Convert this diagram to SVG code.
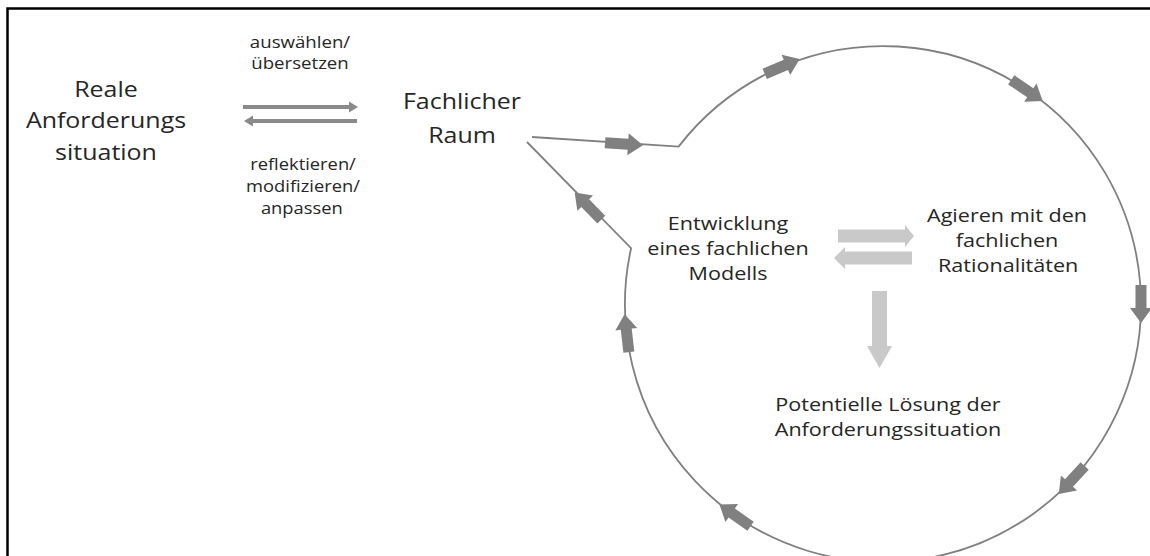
<svg xmlns="http://www.w3.org/2000/svg" width="1150" height="556" viewBox="0 0 1150 556">
  <style>
    text { font-family: "Open Sans", "Liberation Sans", sans-serif; fill: #262626; text-anchor: middle; font-variant-ligatures: none; }
    .big { font-size: 22.5px; }
    .mid { font-size: 18.3px; }
    .small { font-size: 15.8px; }
    .line { fill: none; stroke: #808080; stroke-width: 1.8; }
    .dark { fill: #808080; }
    .light { fill: #c9c9c9; }
  </style>
  <defs>
    <path id="blk" d="M-19,-5.5 H4 V-11 L19,0 L4,11 V5.5 H-19 Z"/>
  </defs>
  <rect x="0" y="0" width="1150" height="556" fill="#ffffff"/>
  <path d="M7.5,556 V8.5 H1150" fill="none" stroke="#000000" stroke-width="2.5"/>

  <g id="node-reale" transform="translate(106,0) scale(1.11,1)">
    <text class="big" x="0" y="97">Reale</text>
    <text class="big" x="0" y="128">Anforderungs</text>
    <text class="big" x="0" y="160">situation</text>
  </g>
  <g id="node-fachlicher-raum" transform="translate(462,0) scale(1.11,1)">
    <text class="big" x="0" y="109">Fachlicher</text>
    <text class="big" x="0" y="143">Raum</text>
  </g>
  <g id="label-top" transform="translate(300,0) scale(1.18,1)">
    <text class="small" x="0" y="48">auswählen/</text>
    <text class="small" x="0" y="69">übersetzen</text>
  </g>
  <g id="label-bottom" transform="translate(303,0) scale(1.16,1)">
    <text class="small" x="0" y="170">reflektieren/</text>
    <text class="small" x="0" y="192">modifizieren/</text>
    <text class="small" x="-1" y="214">anpassen</text>
  </g>
  <g id="node-entwicklung" transform="translate(728,0) scale(1.18,1)">
    <text class="mid" x="0" y="230">Entwicklung</text>
    <text class="mid" x="0" y="255">eines fachlichen</text>
    <text class="mid" x="0" y="280">Modells</text>
  </g>
  <g id="node-agieren" transform="translate(1007,0) scale(1.18,1)">
    <text class="mid" x="0" y="222">Agieren mit den</text>
    <text class="mid" x="0" y="247">fachlichen</text>
    <text class="mid" x="1" y="272">Rationalitäten</text>
  </g>
  <g id="node-loesung" transform="translate(888,0) scale(1.18,1)">
    <text class="mid" x="0" y="411">Potentielle Lösung der</text>
    <text class="mid" x="0" y="436">Anforderungssituation</text>
  </g>

  <g id="connectors">
    <!-- left double arrow -->
    <line x1="243" y1="107" x2="350" y2="107" stroke="#8a8a8a" stroke-width="4"/>
    <polygon points="349,101.5 358,107 349,112.5" fill="#8a8a8a"/>
    <line x1="357" y1="121" x2="252" y2="121" stroke="#8a8a8a" stroke-width="4"/>
    <polygon points="253,115.5 244,121 253,126.5" fill="#8a8a8a"/>

    <!-- cycle -->
    <path class="line" d="M532,137 L678.6,146.6 A258,258 0 1 1 631.1,248.2 L527,142"/>
    <use href="#blk" class="dark" transform="translate(624,144) rotate(3.8)"/>
    <use href="#blk" class="dark" transform="translate(782.2,66.5) rotate(-23)"/>
    <use href="#blk" class="dark" transform="translate(1027,90.5) rotate(34)"/>
    <use href="#blk" class="dark" transform="translate(1141,304) rotate(90)"/>
    <use href="#blk" class="dark" transform="translate(1071.7,480) rotate(133)"/>
    <use href="#blk" class="dark" transform="translate(735,515.3) rotate(215)"/>
    <use href="#blk" class="dark" transform="translate(626.7,333.2) rotate(263.5)"/>
    <use href="#blk" class="dark" transform="translate(588,206) rotate(225.5)"/>

    <!-- inner light arrows -->
    <path class="light" d="M838,229.5 H905 V225 L914,236 L905,247 V242.5 H838 Z"/>
    <path class="light" d="M912,251.5 H845 V247 L834,258 L845,269 V264.5 H912 Z"/>
    <path class="light" d="M872,291 H887 V346 H892 L879.5,368 L867,346 H872 Z"/>
  </g>
</svg>
